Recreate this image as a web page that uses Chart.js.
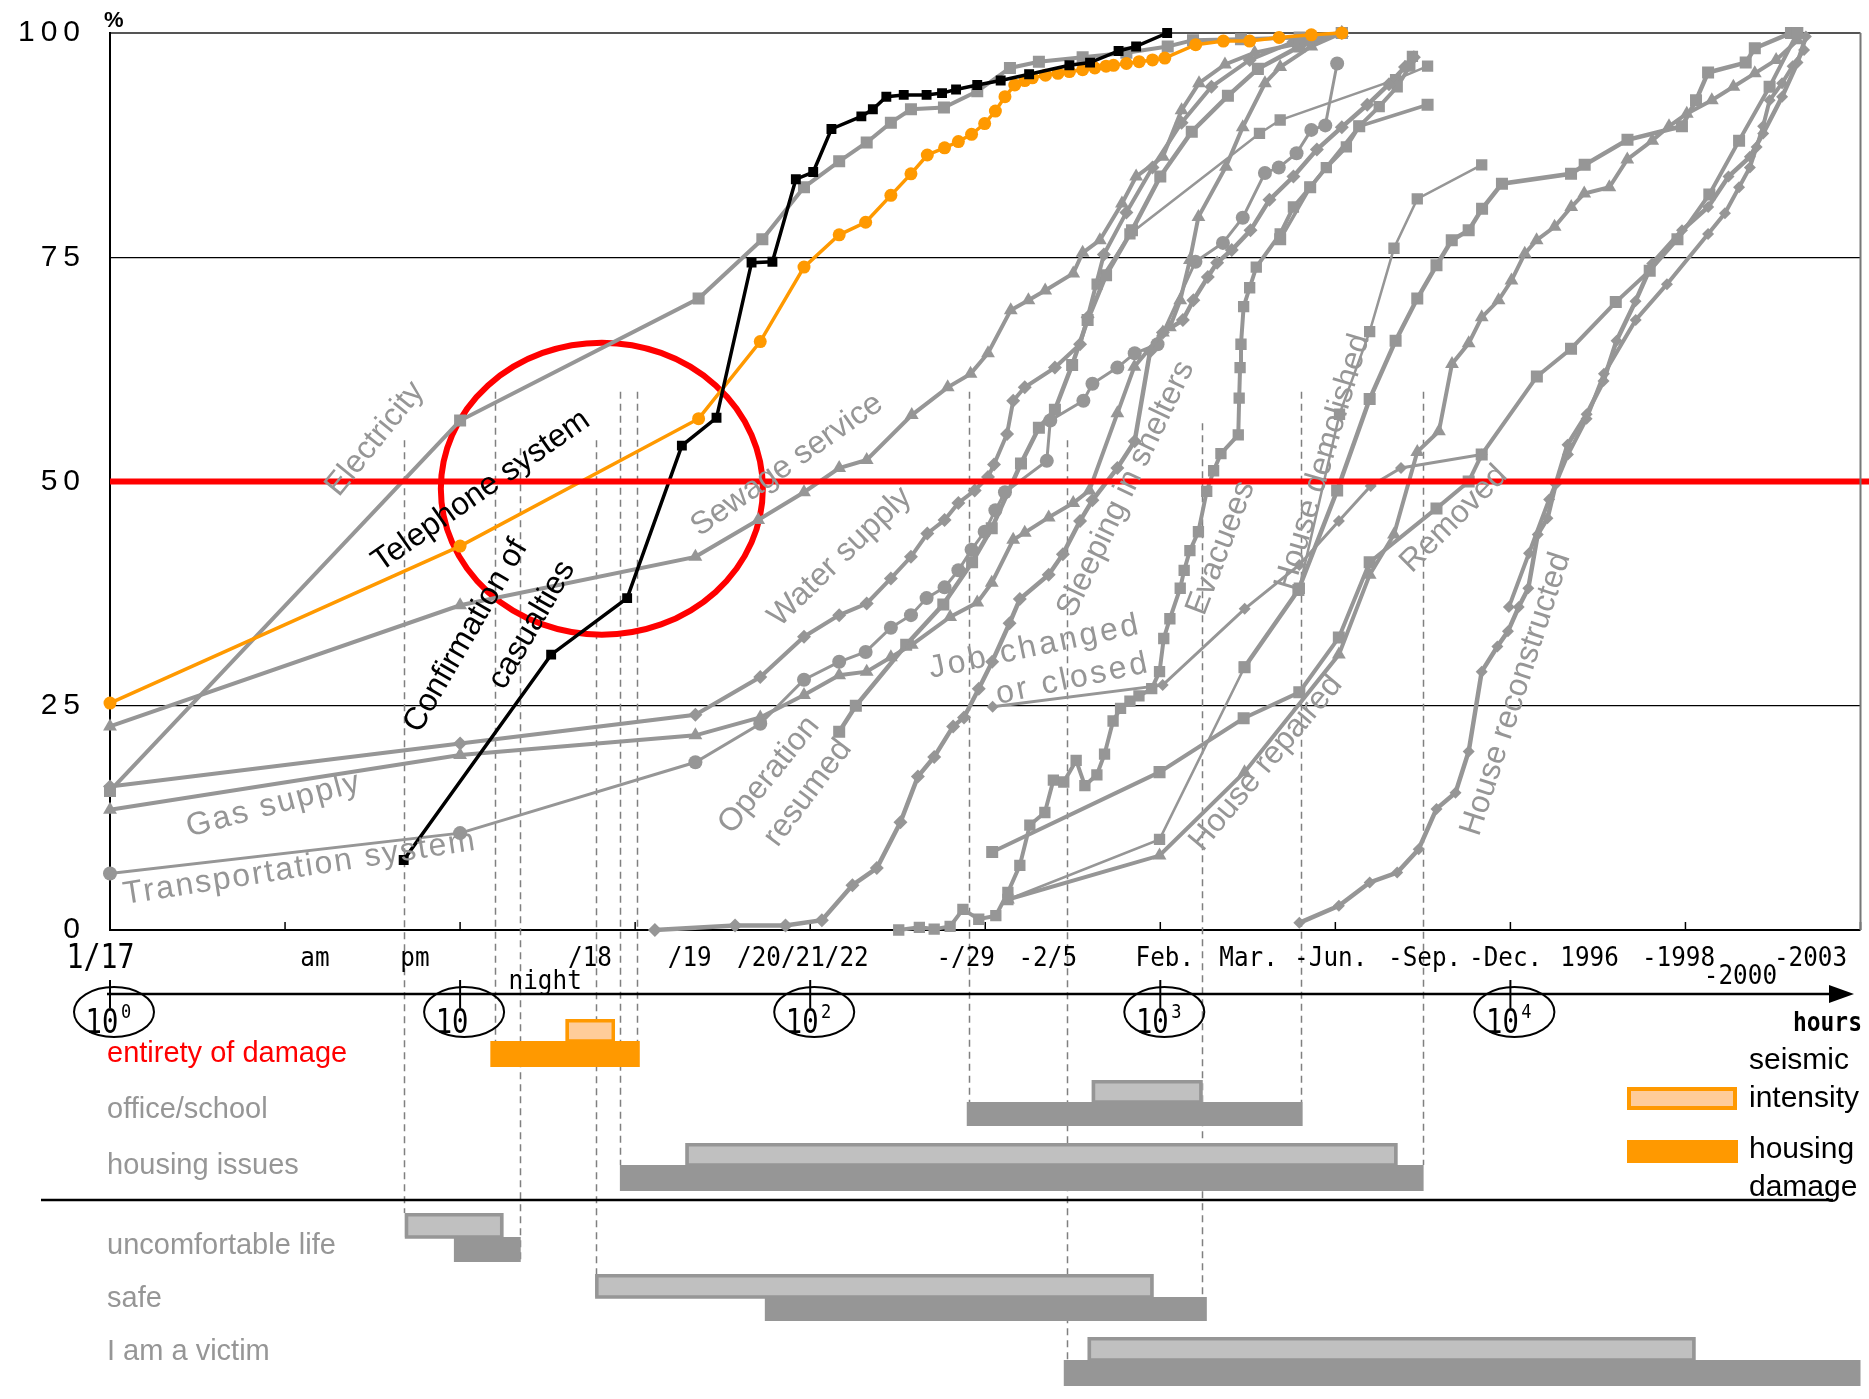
<!DOCTYPE html>
<html>
<head>
<meta charset="utf-8">
<script src="https://cdn.jsdelivr.net/npm/chart.js@4.4.1/dist/chart.umd.min.js"></script>
<style>
  html, body { margin: 0; padding: 0; background: #fff; }
  #wrap { position: relative; width: 1869px; height: 1399px; }
</style>
</head>
<body>
<div id="wrap"><canvas id="recovery" width="1869" height="1399"></canvas></div>
<script>
// x = hours after the quake (log axis), y = % recovered
const casualtyHours = [6.9, 18.2, 30, 43, 54, 68, 78, 91, 102, 115, 140, 151, 165, 185, 215, 238, 261, 300, 350, 422, 550, 630, 760, 853, 1046];
const casualtyPct   = [7.8, 30.7, 37, 54, 57.1, 74.4, 74.5, 83.7, 84.5, 89.3, 90.7, 91.5, 92.9, 93.1, 93.1, 93.3, 93.7, 94.2, 94.7, 95.4, 96.4, 96.7, 98, 98.5, 100];

const phoneHours = [1, 10, 48, 72, 96, 121, 144, 170, 194, 216, 242, 265, 289, 315, 338, 360, 384, 410, 431, 470, 510, 550, 600, 650, 700, 735, 800, 870, 950, 1030, 1262, 1514, 1800, 2184, 2700, 3300];
const phonePct   = [25.3, 42.8, 57, 65.6, 73.9, 77.5, 78.9, 81.9, 84.3, 86.4, 87.2, 87.9, 88.7, 89.9, 91.3, 92.9, 94.2, 94.7, 95, 95.3, 95.5, 95.7, 95.9, 96.1, 96.3, 96.4, 96.6, 96.8, 97, 97.2, 98.7, 99.1, 99.1, 99.5, 99.8, 100];

const powerHours = [1, 10, 48, 73, 96, 121, 145, 170, 194, 241, 300, 372, 450, 600, 800, 1050, 1240, 1700, 2500, 3300];
const powerPct   = [15.5, 56.8, 70.4, 77, 82.8, 85.7, 87.8, 90, 91.5, 91.7, 93.5, 96.1, 96.8, 97.3, 97.8, 98.5, 99.2, 99.3, 99.5, 100];

const sewageHours = [1, 10, 47, 71, 96, 121, 145, 195, 247, 287, 322, 374, 420, 469, 564, 600, 672, 777, 853, 1017, 1150, 1290, 1530, 1860, 2600, 3300];
const sewagePct   = [22.7, 36.2, 41.6, 45.7, 48.8, 51.5, 52.4, 57.4, 60.5, 62, 64.3, 69.1, 70.2, 71.3, 73.2, 75.5, 76.9, 81, 84, 86.2, 91.4, 94.4, 96.5, 97.8, 99, 100];

const gasHours = [1, 10, 47, 72, 96, 121, 145, 170, 195, 251, 300, 330, 380, 410, 480, 564, 627, 754, 843, 1017, 1065, 1140, 1215, 1285, 1540, 1720, 1990, 2200, 2700, 3300];
const gasPct   = [13.4, 19.5, 21.7, 23.7, 26.2, 28.4, 28.8, 30.4, 31.8, 34.9, 36.5, 38.7, 43.5, 44.3, 46, 47.6, 49, 57.6, 62.8, 66.6, 67.2, 70.2, 74.7, 79.5, 85.1, 89.5, 94.4, 96.2, 98.5, 100];

const waterHours = [1, 10, 47, 72, 96, 121, 145, 170, 194, 216, 242, 265, 295, 322, 335, 365, 380, 410, 500, 590, 620, 690, 800, 950, 1150, 1400, 1800, 2400, 3300];
const waterPct   = [16, 20.8, 24, 28.2, 32.7, 35.1, 36.4, 39.2, 41.6, 44.2, 45.7, 47.6, 49, 50.5, 51.9, 55.3, 59, 60.5, 62.7, 65.3, 68.3, 75.3, 80, 85, 90, 94, 97, 99, 100];

const transitHours = [1, 10, 47, 72, 96, 121, 144, 170, 194, 215, 242, 265, 289, 315, 338, 360, 474, 485, 603, 640, 754, 845, 982, 1260, 1510, 1720, 1990, 2180, 2450, 2700, 2960, 3200];
const transitPct   = [6.3, 10.8, 18.7, 23, 27.9, 29.9, 31, 33.7, 35.1, 37, 38.2, 40.1, 42.4, 44.4, 46.8, 48.8, 52.3, 56.8, 59, 60.9, 62.7, 64.3, 65.3, 74.5, 76.6, 79.4, 84.4, 85, 86.6, 89.2, 89.7, 96.6];

const operationHours = [121, 135, 188, 240, 290, 330, 400, 450, 500, 560, 620, 700, 830, 1000, 1230, 1560, 1900, 2500, 3300];
const operationPct   = [22.1, 25, 31.8, 36.3, 41, 44.8, 52, 56, 58, 63, 68, 73, 78, 84, 89, 93, 96, 98.5, 100];

const shelterHours = [36, 61, 85, 108, 132, 155, 181, 203, 226, 256, 275, 303, 331, 371, 397, 480, 527, 590, 640, 754, 845, 935, 1017, 1160, 1243, 1367, 1453, 1600, 1810, 2050, 2400, 2800, 3300, 3900, 4500, 5000, 5300];
const shelterPct   = [0, 0.5, 0.5, 1.1, 5, 6.9, 12, 17.1, 19.3, 22.7, 23.7, 26.9, 29.9, 34.2, 36.9, 39.6, 41.9, 45.6, 47.9, 51.5, 54.5, 64.5, 66.6, 68, 70.2, 72.8, 74.4, 75.8, 78, 81.4, 84, 87, 89.5, 92, 94.3, 96.2, 97.3];

const jobHours = [332, 1016, 1742, 2495, 3236, 3990, 4870, 8280];
const jobPct   = [24.9, 27.3, 35.8, 40.7, 45.6, 49.5, 51.5, 53];

const evacueeHours = [179, 205, 226, 251, 273, 303, 339, 367, 397, 424, 468, 495, 530, 575, 609, 659, 693, 733, 770, 819, 869, 945, 995, 1023, 1065, 1140, 1170, 1215, 1285, 1357, 1420, 1490, 1670, 1680, 1690, 1700, 1730, 1800, 1880, 2200, 2400, 2680, 2980, 3400, 3700, 4220, 4750, 5160, 5250];
const evacueePct   = [0, 0.3, 0.1, 0.4, 2.3, 1.2, 1.6, 4.2, 7.2, 11.7, 13.1, 16.7, 16.5, 18.9, 16.1, 17.3, 19.6, 23.3, 24.7, 25.5, 26.1, 26.9, 28.8, 32.5, 34.7, 38.1, 40.1, 42.3, 44.4, 48.9, 51.2, 53.1, 55.2, 59.3, 62.7, 65.3, 69.5, 71.6, 73.9, 77.6, 80.6, 82.8, 85, 87.3, 89.6, 91.8, 94, 96.3, 97.4];

const returnHours = [2200, 2680, 3700, 5800];
const returnPct   = [77, 82.8, 89.6, 92];

const lodgingHours = [660, 819, 1920, 2200, 4700, 5800];
const lodgingPct   = [72, 77.6, 88.8, 90.3, 94.8, 96.3];

const removedHours = [331, 995, 1730, 2495, 3236, 3963, 6150, 7600, 8280, 11900, 14900, 20000, 25000, 30000, 37000, 45000, 55000, 66000];
const removedPct   = [8.7, 17.6, 23.6, 26.5, 32.6, 41, 47, 50, 53, 61.7, 64.8, 70, 73.5, 77, 82, 88, 94, 100];

const repairHours = [367, 995, 1740, 3236, 3963, 4650, 5420, 6250, 6810, 7600, 8280, 9250, 10070, 10990, 11880, 13370, 14920, 16250, 19170, 21570, 25410, 28380, 31900, 37610, 43340, 49890, 57410, 66090];
const repairPct   = [3.4, 8.3, 17.6, 30.7, 39.6, 44.1, 53.3, 55.6, 63.1, 65.4, 68.3, 70.2, 72.4, 75.4, 76.9, 78.4, 80.6, 82.1, 82.8, 85.9, 88, 89.6, 91, 92.5, 94, 95.5, 97, 99.2];

const demolishThinHours = [367, 995, 1740, 2495, 3250, 3963, 4650, 5420, 8280];
const demolishThinPct   = [3.4, 10.1, 29.3, 38.1, 57.5, 66.7, 76, 81.5, 85.3];

const demolishHours = [1740, 2480, 3200, 3963, 4700, 5420, 6150, 6800, 7600, 8300, 9460, 14900, 16300, 21600, 30900, 33900, 36700, 47000, 49900, 63300];
const demolishPct   = [29.3, 37.9, 49, 59.2, 65.7, 70.4, 74.1, 76.9, 78, 80.4, 83.2, 84.3, 85.3, 88.1, 89.6, 92.5, 95.6, 96.7, 98.3, 100];

const rebuildHours = [2495, 3236, 3963, 4750, 5470, 6150, 6970, 7600, 8280, 9180, 9840, 10560, 11250, 11970, 12760, 13470, 14560, 16510, 18450, 20100, 22770, 25410, 30910, 36730, 41980, 48310, 52720, 59710, 66090, 69820];
const rebuildPct   = [0.8, 2.7, 5.3, 6.4, 9, 13.5, 15.3, 19.9, 28.8, 31.6, 33.3, 36, 38.1, 44.1, 45.9, 49.7, 54.1, 57.5, 61.2, 65.7, 70.1, 74.3, 78, 80.6, 84, 86.2, 88.8, 92.9, 96.7, 99.6];

const rebuild2Hours = [9900, 11300, 12900, 14600, 16500, 18500, 22800, 28000, 36700, 41000, 45000, 48300, 50500, 52700, 55000, 59700, 64000, 69000];
const rebuild2Pct   = [36, 42, 48, 53, 57, 62, 68, 72, 77.6, 79.9, 82.8, 85, 87.3, 89.6, 92.5, 94.4, 96.3, 98.1];

// tick labels under the plot
const dateLabels = ['1/17', 'am', 'pm', '/18', '/19', '/20/21/22', '-/29', '-2/5', 'Feb.', 'Mar.', '-Jun.', '-Sep.', '-Dec.', '1996', '-1998', '-2003'];
const dateHours  = [0.94, 3.85, 7.43, 23.5, 45.3, 95.3, 278, 477, 1030, 1787, 3067, 5690, 9690, 16830, 30200, 71960];
const lowLabels = ['night', '-2000'];
const lowHours  = [17.5, 45400];
const powerTicks = [1, 10, 100, 1000, 10000];
const powerExps  = ['0', '', '2', '3', '4'];

// dashed guides: hour, where they start (%)
const guideHours  = [6.9, 12.6, 14.8, 24.4, 28.6, 32, 284, 541, 1313, 2518, 5610];
const guideTopPct = [54.6, 60, 53.7, 54.6, 60, 60, 60, 54.6, 56.5, 60, 60];

// bars of the lower panel (hours)
const ganttRows   = ['entirety of damage', 'office/school', 'housing issues', 'uncomfortable life', 'safe', 'I am a victim'];
const lightStart  = [20, 637, 44, 6.95, 24.3, 620];
const lightEnd    = [27.7, 1321, 4760, 13.3, 957, 33800];
const darkStart   = [12.2, 280, 28.6, 9.6, 74.2, 530];
const darkEnd     = [32.6, 2550, 5650, 14.9, 1358, 100000];

// ---- layout / styles ----
const GRAY = '#969696';
const ORANGE = '#ff9900';
const guideEndY = [1213, 1041, 1263, 1274, 1165, 1041, 1102, 1360, 1297, 1102, 1165];
const rowBox = [
  { ly: 1019, lh: 22, dh: 26, ty: 1054 },
  { ly: 1080, lh: 22, dh: 24, ty: 1110 },
  { ly: 1143, lh: 22, dh: 26, ty: 1166 },
  { ly: 1213, lh: 24, dh: 25, ty: 1246 },
  { ly: 1274, lh: 23, dh: 24, ty: 1299 },
  { ly: 1337, lh: 23, dh: 26, ty: 1352 }
];
const curveNotes = [
  { t: 'Electricity', x: 375, y: 439, a: -51, c: GRAY },
  { t: 'Telephone system', x: 481, y: 491, a: -35, c: '#000' },
  { t: 'Confirmation of', x: 466, y: 636, a: -60, c: '#000' },
  { t: 'casualties', x: 532, y: 625, a: -60, c: '#000' },
  { t: 'Gas supply', x: 274, y: 805, a: -15, c: GRAY, s: 2 },
  { t: 'Transportation system', x: 300, y: 868, a: -8.8, c: GRAY, s: 2 },
  { t: 'Sewage service', x: 787, y: 465, a: -35, c: GRAY },
  { t: 'Water supply', x: 840, y: 557, a: -44, c: GRAY },
  { t: 'Operation', x: 769, y: 775, a: -51, c: GRAY },
  { t: 'resumed', x: 808, y: 793, a: -53, c: GRAY },
  { t: 'Job changed', x: 1035, y: 647, a: -12, c: GRAY, s: 3 },
  { t: 'or closed', x: 1073, y: 679, a: -12, c: GRAY, s: 3 },
  { t: 'Sleeping in shelters', x: 1126, y: 489, a: -64.5, c: GRAY },
  { t: 'Evacuees', x: 1221, y: 548, a: -69, c: GRAY },
  { t: 'House demolished', x: 1323, y: 462, a: -73.4, c: GRAY },
  { t: 'Removed', x: 1454, y: 519, a: -45, c: GRAY },
  { t: 'House repaired', x: 1266, y: 763, a: -50, c: GRAY },
  { t: 'House reconstructed', x: 1516, y: 694, a: -72, c: GRAY }
];

function pts(h, p) { return h.map((v, i) => ({ x: v, y: p[i] })); }

function series(label, h, p, color, width, style, radius) {
  return {
    label, data: pts(h, p),
    borderColor: color, backgroundColor: color,
    pointBackgroundColor: color, pointBorderColor: color,
    borderWidth: width, pointStyle: style, pointRadius: radius,
    pointBorderWidth: 0, fill: false, clip: 12
  };
}

function textAt(ctx, str, x, y, o) {
  ctx.save();
  ctx.translate(x, y);
  if (o.angle) ctx.rotate(o.angle * Math.PI / 180);
  if (o.sx) ctx.scale(o.sx, 1);
  ctx.font = o.font;
  ctx.fillStyle = o.color || '#000';
  ctx.textAlign = o.align || 'center';
  ctx.textBaseline = o.baseline || 'middle';
  ctx.letterSpacing = (o.spacing || 0) + 'px';
  ctx.fillText(str, 0, 0);
  ctx.restore();
}

const decor = {
  id: 'decor',
  beforeDatasetsDraw(chart) {
    const { ctx, chartArea: a, scales: { x, y } } = chart;
    ctx.save();
    // small ticks every half decade
    ctx.strokeStyle = '#000';
    ctx.lineWidth = 1.5;
    for (let e = 0; e <= 10; e++) {
      const px = x.getPixelForValue(Math.pow(10, e / 2));
      ctx.beginPath(); ctx.moveTo(px, a.bottom); ctx.lineTo(px, a.bottom - 8); ctx.stroke();
    }
    // dashed guides running down into the lower panel
    ctx.strokeStyle = '#808080';
    ctx.lineWidth = 1.5;
    ctx.setLineDash([7, 5]);
    guideHours.forEach((h, i) => {
      const px = Math.round(x.getPixelForValue(h)) + 0.5;
      ctx.beginPath();
      ctx.moveTo(px, y.getPixelForValue(guideTopPct[i]));
      ctx.lineTo(px, guideEndY[i]);
      ctx.stroke();
    });
    ctx.setLineDash([]);
    // red ring
    ctx.strokeStyle = '#ff0000';
    ctx.lineWidth = 6;
    ctx.beginPath();
    ctx.ellipse(x.getPixelForValue(25.4), y.getPixelForValue(49.2), 161, 146, 0, 0, Math.PI * 2);
    ctx.stroke();
    ctx.restore();
  },
  afterDatasetsDraw(chart) {
    const { ctx, chartArea: a, scales: { y } } = chart;
    ctx.save();
    // 50 % line
    ctx.strokeStyle = '#ff0000';
    ctx.lineWidth = 6;
    const y50 = y.getPixelForValue(50);
    ctx.beginPath(); ctx.moveTo(a.left, y50); ctx.lineTo(chart.width, y50); ctx.stroke();
    // right frame
    ctx.strokeStyle = '#777';
    ctx.lineWidth = 2;
    ctx.beginPath(); ctx.moveTo(a.right, a.top); ctx.lineTo(a.right, a.bottom); ctx.stroke();
    ctx.restore();
    curveNotes.forEach(n => textAt(ctx, n.t, n.x, n.y, {
      angle: n.a, color: n.c, spacing: n.s, font: '32px "Liberation Sans", Arial, sans-serif'
    }));
    textAt(ctx, '%', 104, 21, { font: 'bold 22px "Liberation Sans", Arial', align: 'left' });
  },
  afterDraw(chart) {
    const { ctx, scales: { x } } = chart;
    const mono = '"DejaVu Sans Mono", monospace';
    // date labels
    dateLabels.forEach((t, i) => {
      const big = i === 0;
      textAt(ctx, t, x.getPixelForValue(dateHours[i]), big ? 968 : 966, {
        font: (big ? 34 : 27) + 'px ' + mono, sx: big ? 0.83 : 0.9, baseline: 'alphabetic'
      });
    });
    lowLabels.forEach((t, i) => {
      textAt(ctx, t, x.getPixelForValue(lowHours[i]), i === 0 ? 989 : 984, { font: '27px ' + mono, sx: 0.9, baseline: 'alphabetic' });
    });
    // arrow axis with circled powers of ten
    ctx.save();
    ctx.strokeStyle = '#000';
    ctx.fillStyle = '#000';
    ctx.lineWidth = 2.5;
    ctx.beginPath(); ctx.moveTo(107, 994); ctx.lineTo(1836, 994); ctx.stroke();
    ctx.beginPath(); ctx.moveTo(1854, 994); ctx.lineTo(1829, 985); ctx.lineTo(1829, 1003); ctx.closePath(); ctx.fill();
    ctx.lineWidth = 2;
    powerTicks.forEach((v, i) => {
      const px = x.getPixelForValue(v);
      ctx.beginPath(); ctx.moveTo(px, 980); ctx.lineTo(px, 1008); ctx.stroke();
      ctx.beginPath(); ctx.ellipse(px + 4, 1012, 40, 25, 0, 0, Math.PI * 2); ctx.stroke();
      textAt(ctx, '10', px - 8, 1033, { font: '34px ' + mono, sx: 0.8, baseline: 'alphabetic' });
      if (powerExps[i]) textAt(ctx, powerExps[i], px + 16, 1018, { font: '20px ' + mono, sx: 0.85, baseline: 'alphabetic' });
    });
    ctx.restore();
    textAt(ctx, 'hours', 1862, 1031, { font: 'bold 27px ' + mono, sx: 0.85, align: 'right', baseline: 'alphabetic' });

    // lower panel bars
    ctx.save();
    ganttRows.forEach((name, i) => {
      const r = rowBox[i];
      const hot = i === 0;
      const dx0 = x.getPixelForValue(darkStart[i]);
      const dx1 = Math.min(x.getPixelForValue(darkEnd[i]), chart.width);
      ctx.fillStyle = hot ? ORANGE : GRAY;
      ctx.fillRect(dx0, r.ly + r.lh, dx1 - dx0, r.dh);
      const lx0 = x.getPixelForValue(lightStart[i]);
      const lx1 = x.getPixelForValue(lightEnd[i]);
      ctx.fillStyle = hot ? '#ffcc99' : '#c0c0c0';
      ctx.fillRect(lx0, r.ly, lx1 - lx0, r.lh);
      ctx.strokeStyle = hot ? ORANGE : GRAY;
      ctx.lineWidth = 3.5;
      ctx.strokeRect(lx0 + 1.75, r.ly + 1.75, lx1 - lx0 - 3.5, r.lh - 1.75);
      textAt(ctx, name, 107, r.ty, {
        font: '29px "Liberation Sans", Arial, sans-serif', color: hot ? '#ff0000' : GRAY, align: 'left'
      });
    });
    // separator
    ctx.strokeStyle = '#000';
    ctx.lineWidth = 2.5;
    ctx.beginPath(); ctx.moveTo(41, 1200); ctx.lineTo(1833, 1200); ctx.stroke();
    // key
    ctx.fillStyle = '#ffcc99';
    ctx.fillRect(1627, 1087, 110, 23);
    ctx.strokeStyle = ORANGE;
    ctx.lineWidth = 4;
    ctx.strokeRect(1629, 1089, 106, 19);
    ctx.fillStyle = ORANGE;
    ctx.fillRect(1627, 1140, 111, 23);
    ctx.restore();
    const keyFont = '30px "Liberation Sans", Arial, sans-serif';
    textAt(ctx, 'seismic', 1749, 1061, { font: keyFont, align: 'left' });
    textAt(ctx, 'intensity', 1749, 1099, { font: keyFont, align: 'left' });
    textAt(ctx, 'housing', 1749, 1150, { font: keyFont, align: 'left' });
    textAt(ctx, 'damage', 1749, 1188, { font: keyFont, align: 'left' });
  }
};

new Chart(document.getElementById('recovery'), {
  type: 'line',
  data: {
    datasets: [
      series('Confirmation of casualties', casualtyHours, casualtyPct, '#000', 3.5, 'rect', 7),
      series('Telephone system', phoneHours, phonePct, ORANGE, 3.5, 'circle', 6.5),
      series('Electricity', powerHours, powerPct, GRAY, 4, 'rect', 8.5),
      series('Sewage service', sewageHours, sewagePct, GRAY, 4, 'triangle', 8),
      series('Gas supply', gasHours, gasPct, GRAY, 4, 'triangle', 8),
      series('Water supply', waterHours, waterPct, GRAY, 4, 'rectRot', 7),
      series('Transportation system', transitHours, transitPct, GRAY, 3, 'circle', 7),
      series('Operation resumed', operationHours, operationPct, GRAY, 4.5, 'rect', 8.5),
      series('Sleeping in shelters', shelterHours, shelterPct, GRAY, 4.5, 'rectRot', 7),
      series('Job changed or closed', jobHours, jobPct, GRAY, 3, 'rectRot', 6),
      series('Evacuees', evacueeHours, evacueePct, GRAY, 4, 'rect', 8),
      series('Returned home', returnHours, returnPct, GRAY, 3.5, 'rect', 8.5),
      series('Temporary lodging', lodgingHours, lodgingPct, GRAY, 2.5, 'rect', 8),
      series('Removed', removedHours, removedPct, GRAY, 4, 'rect', 8.5),
      series('House repaired', repairHours, repairPct, GRAY, 4, 'triangle', 8),
      series('House demolished (thin)', demolishThinHours, demolishThinPct, GRAY, 2.5, 'rect', 8),
      series('House demolished', demolishHours, demolishPct, GRAY, 4.5, 'rect', 8.5),
      series('House reconstructed', rebuildHours, rebuildPct, GRAY, 4.5, 'rectRot', 6),
      series('House reconstructed 2', rebuild2Hours, rebuild2Pct, GRAY, 4, 'rectRot', 6)
    ]
  },
  options: {
    responsive: false,
    animation: false,
    layout: { padding: { left: 0, right: 7, top: 16, bottom: 469 } },
    plugins: { legend: { display: false }, tooltip: { enabled: false } },
    elements: { line: { tension: 0 } },
    scales: {
      x: { type: 'logarithmic', min: 1, max: 100000, display: false },
      y: {
        min: 0, max: 100,
        afterFit: s => { s.width = 110; },
        ticks: {
          stepSize: 25, padding: 15, color: '#000',
          font: { family: '"Liberation Sans", Arial, sans-serif', size: 30 },
          callback: v => String(v).split('').join('\u2009') + '\u2002'
        },
        grid: {
          drawTicks: false,
          color: c => c.tick.value === 50 ? 'rgba(0,0,0,0)' : (c.tick.value === 100 ? '#555' : '#000'),
          lineWidth: c => (c.tick.value === 0 || c.tick.value === 100) ? 2 : 1.2
        },
        border: { display: true, color: '#000', width: 2 }
      }
    }
  },
  plugins: [decor]
});
</script>
</body>
</html>
